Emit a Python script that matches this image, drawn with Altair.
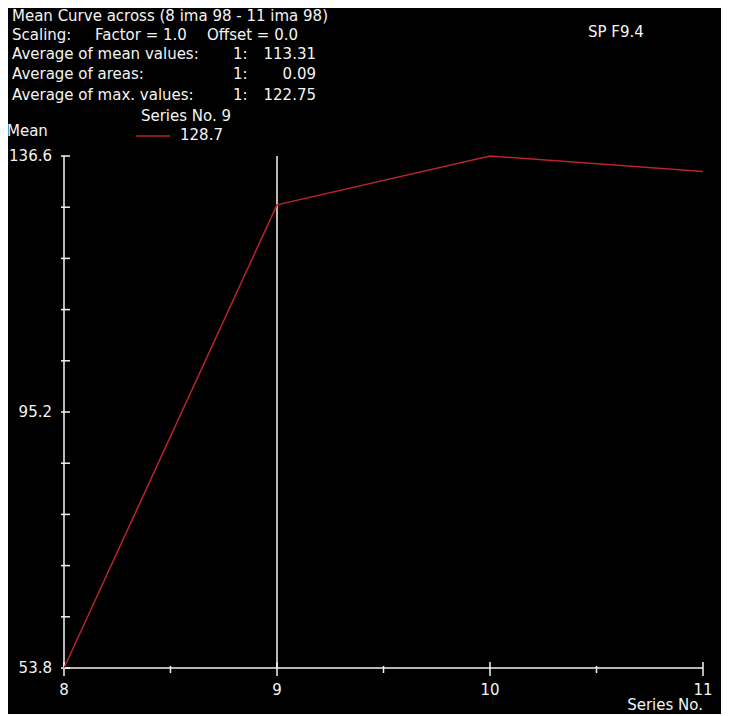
import altair as alt
import pandas as pd

# Data
series_no = [8, 9, 10, 11]
mean_vals = [53.8, 128.7, 136.6, 134.1]
y_ticks = [53.8, 62.08, 70.36, 78.64, 86.92, 95.2, 103.48, 111.76, 120.04, 128.32, 136.6]
y_labels = [53.8, 95.2, 136.6]
x_ticks_major = [8, 9, 10, 11]
x_ticks_minor = [8.5, 9.5, 10.5]
cursor_x = [9]

W, H = 639, 512
FONT = "DejaVu Sans"
FS = 15
FG = "#f4f4f4"
RED = "#b8232d"

xs = alt.Scale(domain=[8, 11], nice=False, zero=False)
ys = alt.Scale(domain=[53.8, 136.6], nice=False, zero=False)

line_df = pd.DataFrame({"x": series_no, "y": mean_vals})
line = alt.Chart(line_df).mark_line(color=RED, strokeWidth=1.5).encode(
    x=alt.X("x:Q", scale=xs, axis=None),
    y=alt.Y("y:Q", scale=ys, axis=None),
)

yaxis = alt.Chart(pd.DataFrame({"a": [0]})).mark_rule(color=FG, strokeWidth=1.5).encode(
    x=alt.value(0), y=alt.value(0), y2=alt.value(H))
xaxis = alt.Chart(pd.DataFrame({"a": [0]})).mark_rule(color=FG, strokeWidth=1.5).encode(
    x=alt.value(0), x2=alt.value(W), y=alt.value(H))

cursor = alt.Chart(pd.DataFrame({"x": cursor_x})).mark_rule(color=FG, strokeWidth=1.5).encode(
    x=alt.X("x:Q", scale=xs, axis=None), y=alt.value(0), y2=alt.value(H))

ytick_df = pd.DataFrame({"v": y_ticks})
ytick = alt.Chart(ytick_df).mark_rule(color=FG, strokeWidth=1.5).encode(
    y=alt.Y("v:Q", scale=ys, axis=None), x=alt.value(-3), x2=alt.value(6))
ylab_df = pd.DataFrame({"v": y_labels, "t": [f"{v:.1f}" for v in y_labels]})
ylab = alt.Chart(ylab_df).mark_text(color=FG, font=FONT, fontSize=FS, align="right", baseline="middle").encode(
    y=alt.Y("v:Q", scale=ys, axis=None), x=alt.value(-12), text="t:N")

xmaj = alt.Chart(pd.DataFrame({"v": x_ticks_major})).mark_rule(color=FG, strokeWidth=1.5).encode(
    x=alt.X("v:Q", scale=xs, axis=None), y=alt.value(H - 6), y2=alt.value(H + 8))
xmin = alt.Chart(pd.DataFrame({"v": x_ticks_minor})).mark_rule(color=FG, strokeWidth=1.5).encode(
    x=alt.X("v:Q", scale=xs, axis=None), y=alt.value(H - 2), y2=alt.value(H + 5))
xlab = alt.Chart(pd.DataFrame({"v": x_ticks_major, "t": [str(v) for v in x_ticks_major]})).mark_text(
    color=FG, font=FONT, fontSize=FS, align="center", baseline="middle").encode(
    x=alt.X("v:Q", scale=xs, axis=None), y=alt.value(H + 22), text="t:N")

# header texts
hdr_text = [
    "Mean Curve across (8 ima 98 - 11 ima 98)",
    "Scaling:",
    "Factor = 1.0",
    "Offset = 0.0",
    "Average of mean values:",
    "Average of areas:",
    "Average of max. values:",
]
hdr_x = [-52, -52, 31, 143, -52, -52, -52]
hdr_y = [-140, -121, -121, -121, -102, -82, -61]
idx_text = ["1:", "1:", "1:"]
val_text = ["113.31", "0.09", "122.75"]
row_y = [-102, -82, -61]

def txt(t, x, y, align="left", color=FG):
    return alt.Chart(pd.DataFrame({"t": [t]})).mark_text(
        color=color, font=FONT, fontSize=FS, align=align, baseline="middle").encode(
        x=alt.value(x), y=alt.value(y), text="t:N")

layers = [yaxis, xaxis, cursor, ytick, ylab, xmaj, xmin, xlab, line]
for t, x, y in zip(hdr_text, hdr_x, hdr_y):
    layers.append(txt(t, x, y))
for t, y in zip(idx_text, row_y):
    layers.append(txt(t, 169, y))
for t, y in zip(val_text, row_y):
    layers.append(txt(t, 252, y, align="right"))
layers.append(txt("Series No. 9", 122, -40, align="center"))
layers.append(txt("Mean", -57, -25))
layers.append(txt("128.7", 116, -21))
layers.append(txt("SP F9.4", 524, -124))
layers.append(txt("Series No.", W, H + 37, align="right"))
legend_line = alt.Chart(pd.DataFrame({"a": [0]})).mark_rule(color=RED, strokeWidth=1.5).encode(
    x=alt.value(72), x2=alt.value(106), y=alt.value(-20))
layers.append(legend_line)

chart = alt.layer(*layers).properties(
    width=W, height=H,
    autosize=alt.AutoSizeParams(type="none"),
    padding={"left": 56, "top": 148, "right": 18, "bottom": 46},
    background="black",
).configure_view(stroke=None)

chart.save("out.html", embed_options={"renderer": "svg", "actions": False})
